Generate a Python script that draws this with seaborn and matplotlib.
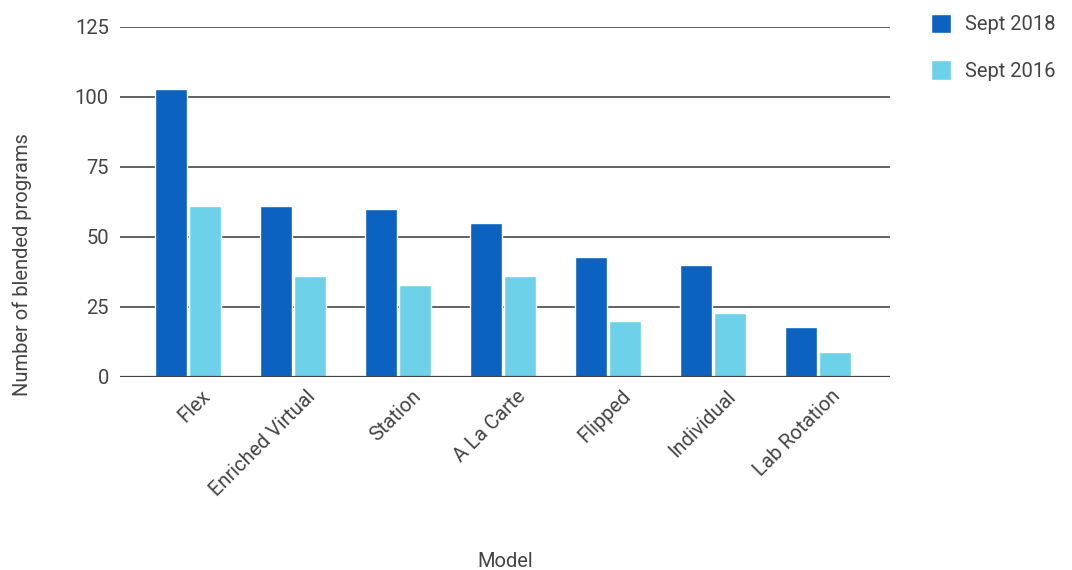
import pandas as pd
import matplotlib.pyplot as plt
import matplotlib.transforms as mtransforms
import seaborn as sns

# values
models = ['Flex', 'Enriched Virtual', 'Station', 'A La Carte', 'Flipped', 'Individual', 'Lab Rotation']
sept_2018 = [103, 61, 60, 55, 43, 40, 18]
sept_2016 = [61, 36, 33, 36, 20, 23, 9]
series = ['Sept 2018', 'Sept 2016']
y_ticks = [0, 25, 50, 75, 100, 125]

df = pd.DataFrame({
    'Model': models * 2,
    'Series': [series[0]] * len(models) + [series[1]] * len(models),
    'Count': sept_2018 + sept_2016,
})

sns.set_style('white')
plt.rcParams['font.family'] = ['Roboto', 'DejaVu Sans']

fig = plt.figure(figsize=(10.72, 5.70), dpi=100)
ax = fig.add_axes([120 / 1072, 193 / 570, 770 / 1072, 350 / 570])

palette = {'Sept 2018': '#0b62c1', 'Sept 2016': '#6dd1ea'}
sns.barplot(data=df, x='Model', y='Count', hue='Series', palette=palette,
            width=0.64, gap=0.04, ax=ax, zorder=3, saturation=1)

ax.set_ylim(0, 125)
ax.set_yticks(y_ticks)
ax.set_xlim(-0.648, 6.686)
ax.grid(axis='y', color='#555555', linewidth=1.3, zorder=0)
ax.axhline(0, color='#444444', linewidth=1.6, zorder=4)
for s in ax.spines.values():
    s.set_visible(False)
ax.tick_params(axis='both', length=0, labelsize=14.5, labelcolor='#444444')
ax.tick_params(axis='y', pad=8)
ax.tick_params(axis='x', pad=7)

shift = mtransforms.ScaledTranslation(13 / 100, 0, fig.dpi_scale_trans)
for lab in ax.get_xticklabels():
    lab.set_rotation(45)
    lab.set_ha('right')
    lab.set_rotation_mode('anchor')
    lab.set_transform(lab.get_transform() + shift)

ax.set_xlabel('Model', fontsize=14.5, color='#444444')
ax.xaxis.set_label_coords(0.5, -0.50)
ax.set_ylabel('Number of blended programs', fontsize=14.5, color='#444444')
ax.yaxis.set_label_coords(-0.114, 0.32)

ax.legend(loc='upper left', bbox_to_anchor=(1.03, 1.09), frameon=False,
          fontsize=14.5, labelcolor='#444444', handlelength=1.0, handleheight=1.1,
          labelspacing=1.3, handletextpad=0.7)

plt.savefig('out.png', dpi=100)
